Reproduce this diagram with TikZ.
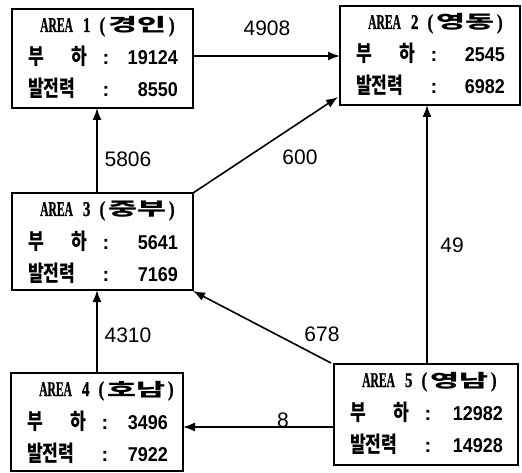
\documentclass[tikz,border=0pt]{standalone}
\usepackage{fontspec}
\usepackage{graphicx}
\setmainfont{Liberation Sans}
\newfontfamily\krf{Noto Sans CJK KR}
\newfontfamily\areaf{Liberation Serif}[BoldFeatures={FakeBold=1.2}]
\usetikzlibrary{arrows.meta}
\newcommand\ttlfont{\areaf\bfseries\fontsize{21}{21}\selectfont}
\newcommand\krtitle{\krf\bfseries\fontsize{18}{18}\selectfont}
\newcommand\krrow{\krf\bfseries\fontsize{22}{22}\selectfont}
\tikzset{
  box/.style={draw, line width=1.6pt, inner sep=0pt, outer sep=0pt},
  ttl/.style={inner sep=0pt},
  kr/.style={inner sep=0pt},
  num/.style={inner sep=0pt, font=\bfseries\fontsize{20}{20}\selectfont},
  lab/.style={inner sep=0pt, font=\fontsize{21}{21}\selectfont},
  arr/.style={line width=1.6pt, -{Latex[length=12pt,width=9pt]}}
}
% #1 name, #2 cx, #3 cy, #4 w, #5 h, #6 number, #7 region, #8 load, #9 generation
\newcommand\areabox[9]{%
  \node[box, minimum width=#4pt, minimum height=#5pt] (#1) at (#2,#3) {};
  \node[ttl, anchor=base west] (#1-t) at ([xshift=28pt,yshift=-23pt]#1.north west)
    {\scalebox{0.55}[1]{\ttlfont AREA}\hspace{10pt}\scalebox{0.72}[1]{\ttlfont #6}\hspace{9pt}\scalebox{0.8}[1]{\ttlfont (}\hspace{3pt}\scalebox{1.75}[1]{\krtitle #7}\hspace{3pt}\scalebox{0.8}[1]{\ttlfont )}};
  \node[kr, anchor=base west] (#1-a) at ([xshift=16pt,yshift=-56pt]#1.north west) {\scalebox{0.78}[1]{\krrow 부}};
  \node[kr, anchor=base west] (#1-b) at ([xshift=59pt,yshift=-56pt]#1.north west) {\scalebox{0.78}[1]{\krrow 하}};
  \node[num, anchor=base] (#1-c) at ([xshift=94pt,yshift=-56pt]#1.north west) {:};
  \node[num, anchor=base east] (#1-v) at ([xshift=-15pt,yshift=-56pt]#1.north east) {\scalebox{0.9}[1]{#8}};
  \node[kr, anchor=base west] (#1-d) at ([xshift=16pt,yshift=-88pt]#1.north west) {\scalebox{0.78}[1]{\krrow 발전력}};
  \node[num, anchor=base] (#1-e) at ([xshift=94pt,yshift=-88pt]#1.north west) {:};
  \node[num, anchor=base east] (#1-w) at ([xshift=-15pt,yshift=-88pt]#1.north east) {\scalebox{0.9}[1]{#9}};
}
\begin{document}
\begin{tikzpicture}[x=1pt,y=-1pt]
\useasboundingbox (0,0) rectangle (522,473);
\areabox{a1}{102.5}{58.5}{181}{99}{1}{경인}{19124}{8550}
\areabox{a2}{430}{55.5}{180}{99}{2}{영동}{2545}{6982}
\areabox{a3}{102.5}{241.5}{181}{97}{3}{중부}{5641}{7169}
\areabox{a4}{97}{422}{172}{98}{4}{호남}{3496}{7922}
\areabox{a5}{426}{414.5}{184}{101}{5}{영남}{12982}{14928}

\coordinate (v1) at (97,0);
\coordinate (v2) at (427,0);
\coordinate (h1) at (0,56);
\coordinate (h2) at (0,427);

\draw[arr] (a1.east |- h1) -- (a2.west |- h1);
\draw[arr] (a3.north -| v1) -- (a1.south -| v1);
\draw[arr] (a3.north east) -- ([xshift=-2pt,yshift=8pt]a2.south west);
\draw[arr] (a5.north -| v2) -- (a2.south -| v2);
\draw[arr] ([xshift=-3pt,yshift=1pt]a5.north west) -- ([yshift=-1pt]a3.south east);
\draw[arr] (a4.north -| v1) -- (a3.south -| v1);
\draw[arr] (a5.west |- h2) -- (a4.east |- h2);

\node[lab] (l1) at (267,28) {4908};
\node[lab] (l2) at (128,159) {5806};
\node[lab] (l3) at (300,157) {600};
\node[lab] (l4) at (452,245) {49};
\node[lab] (l5) at (322,334) {678};
\node[lab] (l6) at (128,335) {4310};
\node[lab] (l7) at (283,420) {8};
\end{tikzpicture}
\end{document}
